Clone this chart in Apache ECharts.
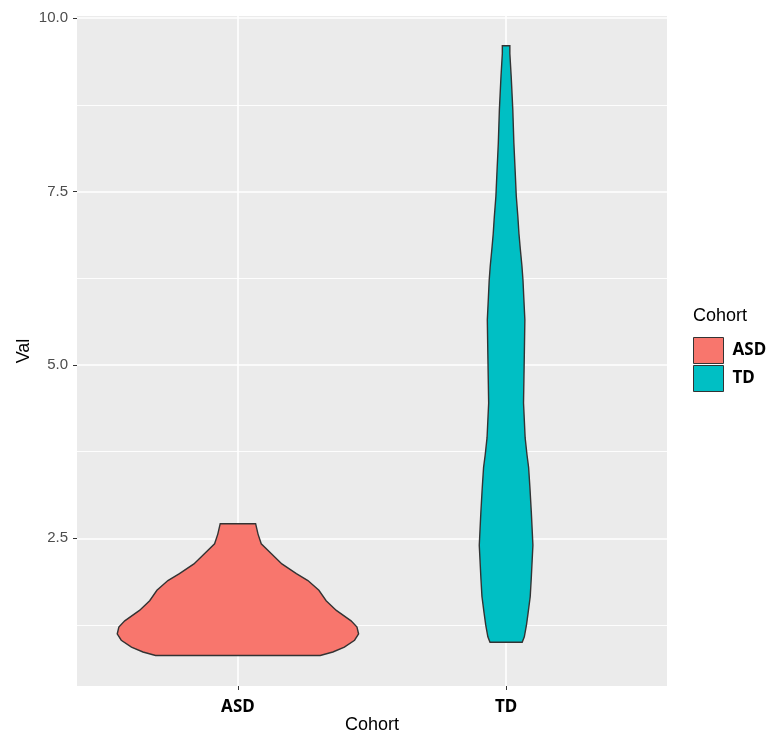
<!DOCTYPE html>
<html>
<head>
<meta charset="utf-8">
<script src="https://cdn.jsdelivr.net/npm/echarts@6/dist/echarts.min.js"></script>
<style>html,body{margin:0;padding:0;background:#fff}#c{width:771px;height:733px}</style>
</head>
<body>
<div id="c"></div>
<script>
// ---- data ----
const categories = ['ASD', 'TD'];
const colors = ['#F8766D', '#00BFC4'];
// violin outline: value levels and half-widths (in category units)
const asdY  = [2.71, 2.56, 2.42, 2.28, 2.13, 1.99, 1.89, 1.75, 1.60, 1.46, 1.31, 1.22, 1.12, 1.03, 0.93, 0.86, 0.81];
const asdHW = [0.066, 0.075, 0.087, 0.124, 0.164, 0.218, 0.261, 0.302, 0.329, 0.367, 0.422, 0.444, 0.450, 0.435, 0.397, 0.354, 0.307];
const tdY   = [9.60, 9.49, 9.16, 8.68, 8.20, 7.78, 7.43, 7.13, 6.89, 6.67, 6.43, 6.22, 5.97, 5.65, 5.15, 4.45, 3.95, 3.70, 3.52, 3.22, 2.88, 2.40, 1.93, 1.66, 1.42, 1.25, 1.08, 1.00];
const tdHW  = [0.014, 0.014, 0.019, 0.025, 0.029, 0.034, 0.038, 0.044, 0.048, 0.053, 0.059, 0.063, 0.066, 0.070, 0.068, 0.065, 0.071, 0.078, 0.084, 0.089, 0.094, 0.100, 0.094, 0.090, 0.082, 0.076, 0.068, 0.060];
const yTicks = [2.5, 5.0, 7.5, 10.0];
const yMinor = [1.25, 3.75, 6.25, 8.75];
const xTicks = [0, 1];

const profiles = [[asdY, asdHW], [tdY, tdHW]];

function makeRender(py, phw) {
  return function (params, api) {
    const c = api.value(0);
    const pts = [];
    for (let i = 0; i < py.length; i++) pts.push(api.coord([c + phw[i], py[i]]));
    for (let i = py.length - 1; i >= 0; i--) pts.push(api.coord([c - phw[i], py[i]]));
    return {
      type: 'polygon',
      shape: { points: pts },
      style: { fill: api.visual('color'), stroke: '#333333', lineWidth: 1.4 }
    };
  };
}

const sans = 'Liberation Sans, Arial, sans-serif';
const boldFont = 'Noto Sans, sans-serif';

const gridLines = [];
yMinor.forEach(v => gridLines.push({ yAxis: v, lineStyle: { color: '#ffffff', width: 0.9, type: 'solid' } }));
yTicks.forEach(v => gridLines.push({ yAxis: v, lineStyle: { color: '#ffffff', width: 1.6, type: 'solid' } }));
xTicks.forEach(v => gridLines.push({ xAxis: v, lineStyle: { color: '#ffffff', width: 1.6, type: 'solid' } }));

const series = [{
  type: 'line',
  data: [],
  z: 1,
  silent: true,
  markLine: {
    silent: true,
    symbol: ['none', 'none'],
    label: { show: false },
    z: 1,
    animation: false,
    data: gridLines
  }
}];
categories.forEach((name, i) => {
  const [py, phw] = profiles[i];
  series.push({
    type: 'custom',
    name: name,
    z: 3,
    itemStyle: { color: colors[i] },
    renderItem: makeRender(py, phw),
    encode: { x: 0, y: [1, 2] },
    data: [[i, Math.min(...py), Math.max(...py)]]
  });
});

const chart = echarts.init(document.getElementById('c'), null, { renderer: 'canvas' });
chart.setOption({
  animation: false,
  backgroundColor: '#ffffff',
  title: {
    text: 'Cohort',
    left: 693, top: 307, padding: 0,
    textStyle: { fontFamily: sans, fontSize: 18, fontWeight: 'normal', color: '#000000' }
  },
  legend: {
    orient: 'vertical',
    left: 693, top: 337,
    padding: 0,
    itemWidth: 30, itemHeight: 26, itemGap: 1,
    icon: 'rect',
    itemStyle: { borderColor: '#333333', borderWidth: 1 },
    textStyle: { fontFamily: boldFont, fontSize: 17, fontWeight: 'bold', color: '#000000', padding: [0, 0, 0, 4] },
    data: categories.map((n, i) => ({ name: n, itemStyle: { color: colors[i], borderColor: '#333333', borderWidth: 1 } }))
  },
  grid: { left: 77, right: 104, top: 16, bottom: 47, show: true, backgroundColor: '#EBEBEB', borderWidth: 0, outerBoundsMode: 'none', containLabel: false },
  xAxis: {
    type: 'value',
    min: -0.6, max: 1.6,
    name: 'Cohort',
    nameLocation: 'middle',
    nameGap: 30,
    nameMoveOverlap: false,
    nameTextStyle: { fontFamily: sans, fontSize: 18, color: '#000000' },
    axisLine: { show: false, onZero: false },
    axisTick: { show: true, length: 4, customValues: xTicks, lineStyle: { color: '#333333', width: 1 } },
    axisLabel: {
      customValues: xTicks, margin: 13,
      formatter: v => categories[Math.round(v)] || '',
      fontFamily: boldFont, fontSize: 17, fontWeight: 'bold', color: '#000000'
    },
    splitLine: { show: false }
  },
  yAxis: {
    type: 'value',
    min: 0.37, max: 10.03,
    name: 'Val',
    nameLocation: 'middle',
    nameGap: 44,
    nameMoveOverlap: false,
    nameTextStyle: { fontFamily: sans, fontSize: 18, color: '#000000' },
    axisLine: { show: false, onZero: false },
    axisTick: { show: true, length: 4, customValues: yTicks, lineStyle: { color: '#333333', width: 1 } },
    axisLabel: {
      customValues: yTicks, margin: 9,
      formatter: v => v.toFixed(1),
      fontFamily: sans, fontSize: 15, color: '#4D4D4D'
    },
    splitLine: { show: false }
  },
  series: series
});
</script>
</body>
</html>
